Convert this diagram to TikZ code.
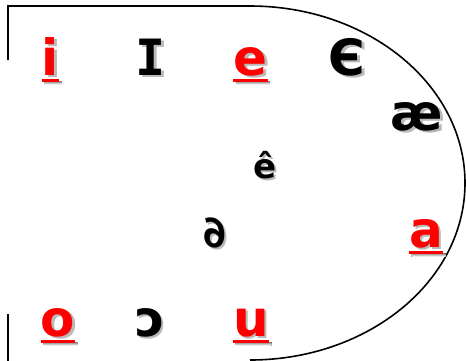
\documentclass[tikz,border=0pt]{standalone}
\usepackage{fontspec}
\newfontfamily\vf{DejaVu Sans}
\newfontfamily\vm{DejaVu Sans Mono}
\newfontfamily\vd{DejaVu Sans Bold}[FakeSlant=-0.22]
\definecolor{shade}{RGB}{185,185,185}
\definecolor{vred}{RGB}{255,0,0}
\tikzset{
  glyph/.style={inner sep=0pt, anchor=base, font=\vf\bfseries\fontsize{50}{50}\selectfont},
  outline/.style={draw=black, line width=1.6pt},
}
% glyph with a grey drop shadow inside one node
\newcommand\shd[1]{\makebox[0pt][l]{\kern2.5pt\raisebox{-2.5pt}{\color{shade}#1}}#1}
% #1 name, #2 x, #3 baseline, #4 colour, #5 text, #6 extra node options
\newcommand\vowl[6]{%
  \node[glyph, #6, text=#4] (#1) at (#2,#3) {\shd{#5}};
}
\newcommand\ulin[1]{%
  \fill[shade] ([xshift=2.5pt,yshift=-6pt]#1.base west) rectangle ([xshift=2.5pt,yshift=-9.5pt]#1.base east);
  \fill[vred] ([yshift=-3.5pt]#1.base west) rectangle ([yshift=-7pt]#1.base east);
}
\begin{document}
\begin{tikzpicture}[x=1pt,y=-1pt]
\useasboundingbox (0,0) rectangle (466,360);
\coordinate (tl) at (8,60);
\coordinate (tc) at (8,6);
\coordinate (ta) at (250,6);
\coordinate (bl1) at (8,314);
\coordinate (bl2) at (8,362);
\draw[outline] (tl) -- (tc) -- (ta) arc[start angle=-90, end angle=90, x radius=215, y radius=177];
\draw[outline] (bl1) -- (bl2);
% top row
\vowl{i}{50.5}{75}{vred}{i}{}
\ulin{i}
\vowl{I}{151}{75}{black}{\vm\bfseries I}{}
\vowl{e}{250.5}{75}{vred}{e}{}
\ulin{e}
\vowl{ye}{347}{75}{black}{Є}{}
\vowl{ae}{417}{130}{black}{æ}{}
\vowl{ec}{265}{178}{black}{ê}{font=\vf\bfseries\fontsize{34}{34}\selectfont}
\vowl{d}{217}{247}{black}{∂}{font=\vd\fontsize{44}{44}\selectfont}
\vowl{a}{426}{247}{vred}{a}{}
\ulin{a}
\vowl{o}{58}{336}{vred}{o}{}
\ulin{o}
\vowl{oo}{150}{336}{black}{ɔ}{}
\vowl{u}{251}{336}{vred}{u}{}
\ulin{u}
\end{tikzpicture}
\end{document}
